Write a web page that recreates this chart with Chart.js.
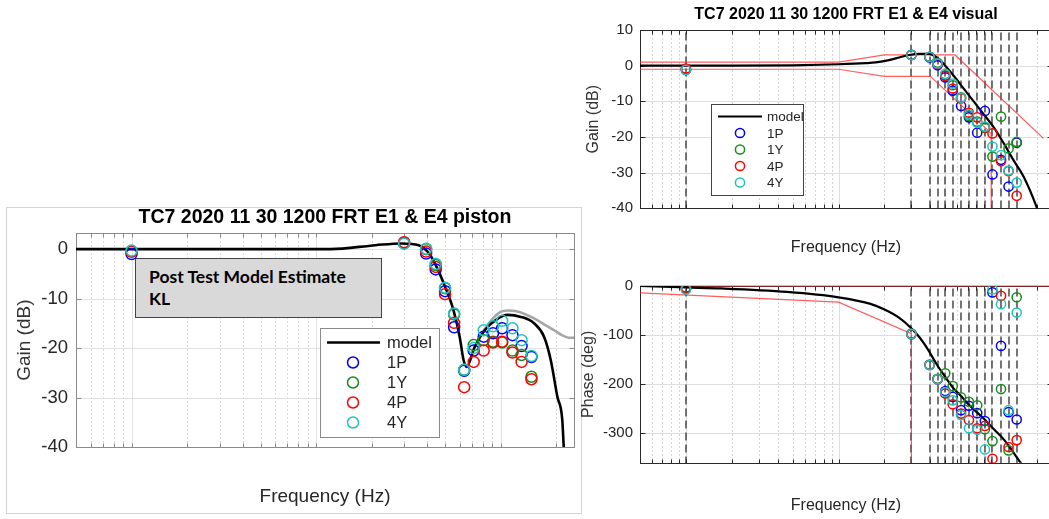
<!DOCTYPE html>
<html>
<head>
<meta charset="utf-8">
<script src="https://cdn.jsdelivr.net/npm/chart.js@4.4.1/dist/chart.umd.min.js"></script>
<style>
  body { margin: 0; width: 1049px; height: 519px; overflow: hidden; position: relative; background: #fff; font-family: "Liberation Sans", Arial, sans-serif; }
  canvas { position: absolute; }
  #panel { position: absolute; left: 6px; top: 207px; width: 574px; height: 305px; border: 1px solid #d4d4d4; }
  #note { position: absolute; left: 135px; top: 258px; width: 232px; height: 51px; padding: 7px 0 0 13px;
          background: #d9d9d9; border: 1px solid #444; font: bold 17.5px Lato, "Open Sans", sans-serif; line-height: 22px; color: #000; }
</style>
</head>
<body>
<div id="panel"></div>
<canvas id="piston" width="574" height="305" style="left:7px;top:208px"></canvas>
<div id="note">Post Test Model Estimate<br>KL</div>
<canvas id="gainVis" width="474" height="262" style="left:584px;top:0px"></canvas>
<canvas id="phaseVis" width="479" height="257" style="left:579px;top:262px"></canvas>
<script>
/* test frequencies (Hz), shared by all three plots */
const freqs = [0.1, 3, 3.95, 4.45, 5, 5.6, 6.35, 7.15, 8.1, 9.1, 10.2, 11.6, 13, 14.7];

/* piston gain (dB) */
const piston1P = [-1.0, 1.2, -0.9, -4.1, -8.5, -15.8, -24.6, -20.5, -17.7, -17.0, -16.0, -17.4, -19.6, -21.8];
const piston1Y = [-0.5, 1.2, 0.0, -3.2, -7.9, -13.2, -24.4, -19.4, -18.4, -18.7, -18.9, -20.5, -21.4, -25.8];
const piston4P = [-0.5, 1.4, -0.5, -3.6, -9.1, -14.9, -27.9, -22.8, -20.5, -18.9, -18.7, -20.9, -22.8, -26.3];
const piston4Y = [-0.3, 1.1, 0.1, -3.0, -7.8, -13.0, -24.4, -20.0, -16.4, -15.6, -14.5, -16.0, -18.4, -21.6];
const pistonModelF = [0.05, 0.5, 1.2, 2.1, 2.9, 3.6, 4.1, 4.5, 5.0, 5.55, 6.0, 6.3, 6.55, 7.25, 8.2, 9.7, 10.9, 12.9, 15.2, 17.2, 18.7, 20.3, 21.6, 22.0, 22.6];
const pistonModelG = [0, 0, 0, 0.8, 1.15, 0.8, -0.9, -3.6, -7.6, -12.3, -17.7, -22.4, -23.8, -19.7, -16.4, -14.0, -13.3, -13.7, -15.0, -17.7, -22.4, -29.8, -34.5, -40, -46];
const pistonAltF = [7.25, 8.2, 9.0, 10.0, 11.0, 12.0, 13.5, 15.2, 17.2, 19.5, 21.5, 23.4, 25];
const pistonAltG = [-19.7, -16.2, -14.2, -12.7, -12.4, -12.5, -13.1, -14.0, -15.2, -16.4, -17.4, -17.9, -17.9];
const pistonTicks = [0, -10, -20, -30, -40];

/* visual gain (dB) */
const vis1P = [-1.2, 3.0, 2.3, 0.1, -3.3, -7.0, -11.3, -14.5, -18.8, -12.7, -30.5, -26.4, -33.9, -21.6];
const vis1Y = [-1.0, 3.0, 2.5, 0.8, -2.7, -5.5, -8.9, -14.1, -15.7, -17.5, -25.5, -14.3, -23.2, -21.4];
const vis4P = [-0.8, 3.0, 2.5, 0.5, -2.9, -6.4, -9.2, -13.2, -14.5, -17.3, -19.0, -26.8, -29.6, -36.5];
const vis4Y = [-1.2, 3.0, 2.5, 0.6, -2.3, -5.0, -9.0, -13.6, -16.0, -17.1, -22.7, -25.1, -29.4, -32.8];
const visModelF = [0.05, 0.2, 0.5, 1, 1.5, 1.75, 2.1, 2.5, 2.9, 3.4, 3.9, 4.4, 4.95, 5.75, 6.65, 7.7, 9.0, 10.4, 12.1, 14.0, 16.3, 19.8, 21.5];
const visModelG = [0, 0, 0.1, 0.4, 0.7, 0.9, 1.5, 2.3, 3.0, 3.3, 3.3, 2.3, 0.2, -3.1, -6.6, -10.1, -13.8, -17.3, -21.8, -26.5, -31.1, -39.5, -44];
const gainUpperF = [0.05, 1, 2, 5.8, 22];
const gainUpperG = [1, 1, 3, 3, -20.4];
const gainLowerF = [0.05, 1, 2, 4, 10, 10];
const gainLowerG = [-1, -1, -3, -3, -19, -40];
const gainTicks = [10, 0, -10, -20, -30, -40];

/* visual phase (deg) */
const phase1P = [-6, -98, -161, -190, -214, -226, -253, -244, -259, -275, -13, -122, -257, -272];
const phase1Y = [-5, -97, -160, -189, -178, -204, -227, -236, -243, -292, -316, -210, -335, -23];
const phase4P = [-3, -98, -161, -190, -219, -241, -260, -273, -290, -285, -352, -20, -328, -314];
const phase4Y = [-7, -98, -161, -190, -216, -233, -263, -290, -293, -333, -7, -37, -253, -54];
const phaseModelF = [0.05, 0.1, 0.17, 0.46, 1, 1.6, 2.0, 2.5, 2.95, 3.4, 3.9, 4.4, 5.0, 5.65, 6.35, 7.2, 9.0, 10.5, 12.2, 15.6, 16.5];
const phaseModelP = [0, -3, -5, -12, -23, -36, -48, -65, -84, -105, -132, -160, -185, -208, -224, -243, -271, -293, -314, -360, -370];
const phaseUpperF = [0.05, 25];
const phaseUpperP = [0, 0];
const phaseLowerF = [0.05, 1, 3, 3];
const phaseLowerP = [-14, -33, -97, -360];
const phaseTicks = [0, -100, -200, -300];

const BLUE = "#0000ff", GREEN = "#1a8c1a", RED = "#ff0000", CYAN = "#1fc3c3";
const LIMIT = "rgba(255,40,40,0.75)";

Chart.defaults.font.family = '"Liberation Sans", Arial, sans-serif';
Chart.defaults.animation = false;

const pts = (xs, ys) => xs.map((x, i) => ({ x, y: ys[i] }));

/* MATLAB style grid, test-frequency dashes, box with inner ticks, and legend */
const matlabLook = {
  id: "matlabLook",
  beforeDatasetsDraw(chart, args, o) {
    const { ctx, chartArea: a } = chart;
    const x = chart.scales.x, y = chart.scales.y;
    const L = Math.round(a.left) + 0.5, T = Math.round(a.top) + 0.5;
    const R = Math.round(a.right) + 0.5, B = Math.round(a.bottom) + 0.5;
    ctx.save();
    ctx.lineWidth = 1;
    const xs = [];
    for (let e = -2; e <= 2; e++) {
      for (let k = 1; k <= 9; k++) {
        const v = k * Math.pow(10, e);
        if (v <= x.min * 1.001 || v >= x.max) continue;
        const px = Math.round(x.getPixelForValue(v)) + 0.5;
        xs.push(px);
        ctx.strokeStyle = k === 1 ? o.major : o.minor;
        ctx.setLineDash(k === 1 ? [] : [1, 3]);
        ctx.beginPath();
        ctx.moveTo(px, T);
        ctx.lineTo(px, B);
        ctx.stroke();
      }
    }
    ctx.setLineDash([]);
    ctx.strokeStyle = o.major;
    const ys = [];
    y.ticks.forEach((t) => {
      const py = Math.round(y.getPixelForValue(t.value)) + 0.5;
      ys.push(py);
      if (py <= T + 1 || py >= B - 1) return;
      ctx.beginPath();
      ctx.moveTo(L, py);
      ctx.lineTo(R, py);
      ctx.stroke();
    });
    if (o.tests) {
      ctx.strokeStyle = "#3c3c3c";
      ctx.lineWidth = 1.4;
      ctx.setLineDash([8, 4]);
      o.tests.forEach((f) => {
        const px = Math.round(x.getPixelForValue(f));
        ctx.beginPath();
        ctx.moveTo(px, T + 2);
        ctx.lineTo(px, B);
        ctx.stroke();
      });
    }
    // box and inward ticks
    ctx.setLineDash([]);
    ctx.lineWidth = 1;
    ctx.strokeStyle = o.frame;
    ctx.strokeRect(L, T, R - L, B - T);
    ctx.beginPath();
    xs.forEach((px) => {
      ctx.moveTo(px, T); ctx.lineTo(px, T + 4);
      ctx.moveTo(px, B); ctx.lineTo(px, B - 4);
    });
    ys.forEach((py) => {
      ctx.moveTo(L, py); ctx.lineTo(L + 5, py);
      ctx.moveTo(R, py); ctx.lineTo(R - 5, py);
    });
    ctx.stroke();
    ctx.restore();
  },
  afterDatasetsDraw(chart, args, o) {
    if (!o.box) return;
    const ctx = chart.ctx;
    ctx.save();
    const [bx, by, bw, bh] = o.box;
    ctx.fillStyle = "#fff";
    ctx.fillRect(bx, by, bw, bh);
    ctx.strokeStyle = o.boxEdge;
    ctx.lineWidth = 1;
    ctx.strokeRect(bx + 0.5, by + 0.5, bw, bh);
    ctx.font = o.font;
    ctx.textBaseline = "middle";
    const items = chart.data.datasets.filter((d) => d.inLegend);
    items.forEach((d, i) => {
      const yy = o.rowY + i * o.rowH;
      if (d.showLine) {
        ctx.strokeStyle = d.borderColor;
        ctx.lineWidth = d.borderWidth;
        ctx.beginPath();
        ctx.moveTo(o.lineX[0], yy);
        ctx.lineTo(o.lineX[1], yy);
        ctx.stroke();
      } else {
        ctx.strokeStyle = d.pointBorderColor;
        ctx.lineWidth = d.pointBorderWidth;
        ctx.beginPath();
        ctx.arc(o.markX, yy, d.pointRadius, 0, Math.PI * 2);
        ctx.stroke();
      }
      ctx.fillStyle = "#262626";
      ctx.fillText(d.label, o.textX, yy + 1);
    });
    ctx.restore();
  },
};

function markers(label, xs, ys, color, r, order) {
  return {
    label, data: pts(xs, ys), showLine: false, inLegend: true, order,
    pointRadius: r, pointHoverRadius: r, pointBorderColor: color, pointBackgroundColor: "rgba(0,0,0,0)",
    pointBorderWidth: 1.5, borderColor: color,
  };
}
function curve(label, xs, ys, color, width, order, legend) {
  return {
    label, data: pts(xs, ys), showLine: true, inLegend: !!legend, order,
    borderColor: color, borderWidth: width, pointRadius: 0, cubicInterpolationMode: "monotone",
  };
}
function limit(xs, ys) {
  return { label: "", data: pts(xs, ys), showLine: true, order: 8, borderColor: LIMIT, borderWidth: 1.2, pointRadius: 0, clip: 3 };
}

function axes(o) {
  return {
    x: {
      type: "logarithmic", min: 0.05, max: 25,
      grid: { display: false, drawTicks: false }, border: { display: false },
      ticks: { display: false },
      title: { display: true, text: "Frequency (Hz)", color: "#262626", font: { size: o.xFont }, padding: { top: 0, bottom: o.xPad } },
      afterFit: (s) => { s.height = o.xH; },
    },
    y: {
      type: "linear", min: o.yMin, max: o.yMax,
      grid: { display: false, drawTicks: false }, border: { display: false },
      ticks: { color: "#262626", font: { size: o.tickFont }, padding: o.tickPad },
      title: { display: true, text: o.yTitle, color: "#333", font: { size: o.yFont }, padding: { top: o.yPad, bottom: 0 } },
      afterBuildTicks: (s) => { s.ticks = o.yTicks.map((v) => ({ value: v })); },
      afterFit: (s) => { s.width = o.yW; },
    },
  };
}

/* left: piston gain */
new Chart(document.getElementById("piston"), {
  type: "scatter",
  plugins: [matlabLook],
  data: {
    datasets: [
      curve("model", pistonModelF, pistonModelG, "#000", 2.6, 5, true),
      markers("1P", freqs, piston1P, BLUE, 5.5, 4),
      markers("1Y", freqs, piston1Y, GREEN, 5.5, 3),
      markers("4P", freqs, piston4P, RED, 5.5, 2),
      markers("4Y", freqs, piston4Y, CYAN, 5.5, 1),
      curve("", pistonAltF, pistonAltG, "#a6a6a6", 2.6, 6, false),
    ],
  },
  options: {
    responsive: false,
    layout: { padding: { top: 0, right: 1, left: 0, bottom: 0 } },
    plugins: {
      legend: { display: false },
      tooltip: { enabled: false },
      title: { display: true, fullSize: false, text: "TC7 2020 11 30 1200 FRT E1 & E4 piston", color: "#000",
               font: { size: 19.5, weight: "bold", lineHeight: 1 }, padding: { top: 0, bottom: 5.8 } },
      matlabLook: {
        major: "#e2e2e2", minor: "#b5b5b5", frame: "#8a8a8a",
        box: [313, 120, 119, 109], boxEdge: "#8a8a8a", font: "16.5px 'Liberation Sans', Arial, sans-serif",
        rowY: 134.5, rowH: 20, lineX: [320, 373], markX: 346, textX: 380,
      },
    },
    scales: axes({ yMin: -40, yMax: 3.2, yTicks: pistonTicks, yTitle: "Gain (dB)", xFont: 19, xPad: 5, xH: 66, yFont: 19, yPad: 6, yW: 69, tickFont: 18.5, tickPad: 8 }),
  },
});

/* right top: visual gain */
new Chart(document.getElementById("gainVis"), {
  type: "scatter",
  plugins: [matlabLook],
  data: {
    datasets: [
      curve("model", visModelF, visModelG, "#000", 2.2, 5, true),
      markers("1P", freqs, vis1P, BLUE, 4.6, 4),
      markers("1Y", freqs, vis1Y, GREEN, 4.6, 3),
      markers("4P", freqs, vis4P, RED, 4.6, 2),
      markers("4Y", freqs, vis4Y, CYAN, 4.6, 1),
      limit(gainUpperF, gainUpperG),
      limit(gainLowerF, gainLowerG),
    ],
  },
  options: {
    responsive: false,
    layout: { padding: 0 },
    plugins: {
      legend: { display: false },
      tooltip: { enabled: false },
      title: { display: true, fullSize: false, text: "TC7 2020 11 30 1200 FRT E1 & E4 visual", color: "#000",
               font: { size: 16, weight: "bold", lineHeight: 1 }, padding: { top: 7, bottom: 7 } },
      matlabLook: {
        major: "#dedede", minor: "#a8a8a8", frame: "#2a2a2a", tests: freqs,
        box: [127, 104, 92, 91], boxEdge: "#444", font: "13.5px 'Liberation Sans', Arial, sans-serif",
        rowY: 116.5, rowH: 16.5, lineX: [134, 178], markX: 156, textX: 183,
      },
    },
    scales: axes({ yMin: -40, yMax: 10, yTicks: gainTicks, yTitle: "Gain (dB)", xFont: 16, xPad: 4.4, xH: 53.7, yFont: 16, yPad: 0, yW: 56, tickFont: 15, tickPad: 7 }),
  },
});

/* right bottom: visual phase */
new Chart(document.getElementById("phaseVis"), {
  type: "scatter",
  plugins: [matlabLook],
  data: {
    datasets: [
      curve("model", phaseModelF, phaseModelP, "#000", 2.2, 5, true),
      markers("1P", freqs, phase1P, BLUE, 4.6, 4),
      markers("1Y", freqs, phase1Y, GREEN, 4.6, 3),
      markers("4P", freqs, phase4P, RED, 4.6, 2),
      markers("4Y", freqs, phase4Y, CYAN, 4.6, 1),
      limit(phaseUpperF, phaseUpperP),
      limit(phaseLowerF, phaseLowerP),
    ],
  },
  options: {
    responsive: false,
    layout: { padding: { top: 24, right: 0, left: 0, bottom: 0 } },
    plugins: {
      legend: { display: false },
      tooltip: { enabled: false },
      matlabLook: { major: "#dedede", minor: "#a8a8a8", frame: "#2a2a2a", tests: freqs },
    },
    scales: axes({ yMin: -360, yMax: 0, yTicks: phaseTicks, yTitle: "Phase (deg)", xFont: 16, xPad: 3.4, xH: 56.3, yFont: 16, yPad: 0, yW: 61, tickFont: 15, tickPad: 7 }),
  },
});
</script>
</body>
</html>
